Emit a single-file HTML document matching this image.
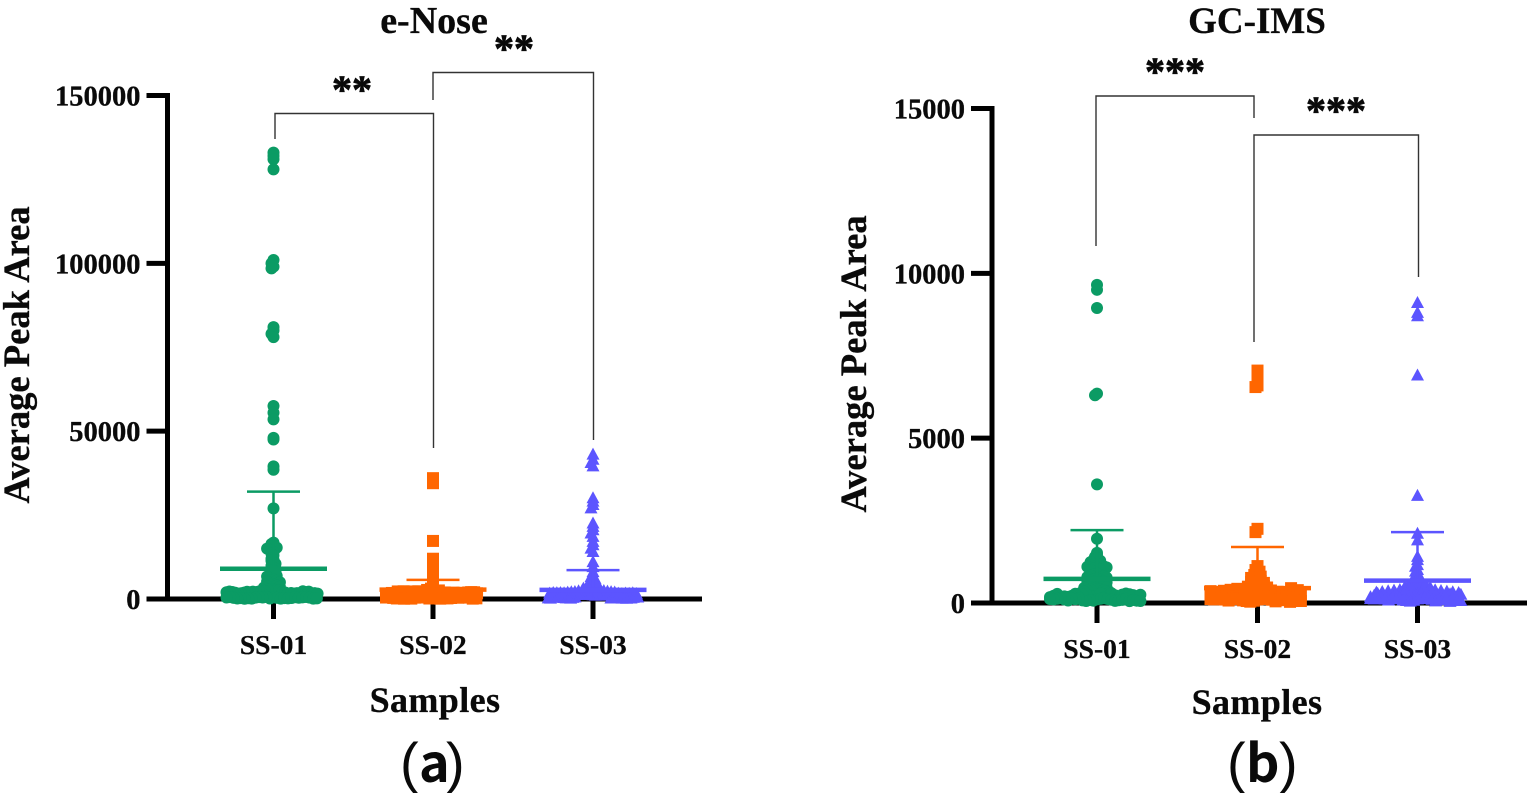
<!DOCTYPE html>
<html lang="en">
<head>
<meta charset="utf-8">
<title>e-Nose and GC-IMS average peak area</title>
<style>
html,body{margin:0;padding:0;background:#fff;}
body{width:1535px;height:793px;overflow:hidden;}
svg{display:block;}
text{font-family:"Liberation Serif","Noto Serif CJK SC",serif;font-weight:700;fill:#0a0a0a;stroke:#0a0a0a;stroke-width:0.3px;}
.star{stroke-width:0.8px;}
.nostroke{stroke:none;}
</style>
</head>
<body>
<svg id="figure" xmlns="http://www.w3.org/2000/svg" width="1535" height="793" viewBox="0 0 1535 793">
  <rect x="0" y="0" width="1535" height="793" fill="#ffffff"/>
  <g id="panel-a">
    <text x="434" y="33" font-size="38" text-anchor="middle">e-Nose</text>
    <text transform="translate(29,355) rotate(-90)" font-size="36.6" text-anchor="middle">Average Peak Area</text>
    <text x="435" y="712" font-size="36" text-anchor="middle" letter-spacing="0.4">Samples</text>
    <text class="nostroke" y="782" font-size="56" style="font-family:'Liberation Sans','Noto Sans CJK SC',sans-serif"><tspan x="400" style="font-weight:400">(</tspan><tspan x="419" font-size="52" style="font-family:'Noto Sans CJK SC','Liberation Sans',sans-serif">a</tspan><tspan x="446" style="font-weight:400">)</tspan></text>
    <path d="M275 139V113.5H433.5V448" fill="none" stroke="#333" stroke-width="1.4"/>
    <path d="M433 100V72.5H593.5V440" fill="none" stroke="#333" stroke-width="1.4"/>
    <text class="star" x="352" y="103" font-size="40" text-anchor="middle">**</text>
    <text class="star" x="514" y="62" font-size="40" text-anchor="middle">**</text>
  </g>
  <g id="panel-b">
    <text x="1257" y="33" font-size="37" text-anchor="middle">GC-IMS</text>
    <text transform="translate(866,364) rotate(-90)" font-size="36.6" text-anchor="middle">Average Peak Area</text>
    <text x="1257" y="714" font-size="36" text-anchor="middle" letter-spacing="0.4">Samples</text>
    <text class="nostroke" y="782" font-size="56" style="font-family:'Liberation Sans','Noto Sans CJK SC',sans-serif"><tspan x="1227" style="font-weight:400">(</tspan><tspan x="1246" font-size="52" style="font-family:'Noto Sans CJK SC','Liberation Sans',sans-serif">b</tspan><tspan x="1279" style="font-weight:400">)</tspan></text>
    <path d="M1096 246V96H1254V118" fill="none" stroke="#333" stroke-width="1.4"/>
    <path d="M1254 342V135H1418.5V277" fill="none" stroke="#333" stroke-width="1.4"/>
    <text class="star" x="1175" y="85" font-size="40" text-anchor="middle">***</text>
    <text class="star" x="1336" y="124" font-size="40" text-anchor="middle">***</text>
  </g>
</svg>
<script>
const categories = ["SS-01", "SS-02", "SS-03"];
const seriesColors = ["#0b9b64", "#ff6600", "#5c55ff"];

const enoseTicks = [0, 50000, 100000, 150000];
const enoseMeans = [9000, 2800, 2700];
const enoseUpperSD = [32000, 5700, 8600];
const enoseSS01 = [133000,132000,131000,128000,101000,100000,99000,98500,81000,80000,79000,78000,57500,55500,53500,48000,47500,39500,38500,27000,
  16800,16400,16000,15600,15300,15000,14000,13500,13000,12000,11700,11400,10500,10200,9900,9000,8700,8400,8100,7300,7100,6900,6700,5800,5600,5400,5200,5000,4400,4200,4000,3800,3600,3400,
  2900,2700,2500,2800,2600,2400,
  2100,1700,1950,2250,1600,2050,1800,2200,1650,2000,1750,2150,1600,1900,2300,1700,2050,1600,2200,1850,1650,2100,1750,2250,1600,2000,
  500,150,350,600,100,450,250,550,180,400,300,120,520,220,380,90,480,260,580,160,420,320,110,540,200,440];
const enoseSS02 = [36000,34500,17300,12000,10500,9000,7500,6000,4500,3400,3100,
  2800,2600,2500,2700,2550,
  2100,1700,2200,1950,2300,1800,2050,1650,2250,1900,2150,1750,2000,1600,2300,1850,2100,1700,2250,1950,1650,2050,1800,2000,1600,1700,
  500,150,350,600,100,450,250,550,180,400,300,120,520,220,380,90,480,260,580,160,420,320,110,540,200,440];
const enoseSS03 = [43000,41500,40500,39500,30000,29000,28000,27000,22500,21500,20500,19500,18500,17000,16000,15000,14000,11000,9500,8000,7000,6500,6000,5500,5000,4700,4400,4100,3800,3500,3300,3100,
  2900,2800,2700,2600,2500,2450,2400,2300,2200,2100,2050,2000,1950,1900,
  1600,1100,1400,1700,1000,1500,1200,1800,1050,1350,1650,1150,1750,1250,1550,1000,1450,1800,1100,1300,1700,1050,1600,1200,1500,1150,
  500,150,350,600,100,450,250,550,180,400,300,120,520,220,380,90,480,260,580,160,420,320,110,540,200,440];

const gcimsTicks = [0, 5000, 10000, 15000];
const gcimsMeans = [730, 450, 680];
const gcimsUpperSD = [2210, 1700, 2150];
const gcimsSS01 = [9650,9500,8950,6350,6300,3600,1950,1520,1460,1400,1360,1320,1280,1240,1200,1180,1160,1140,1120,1100,1080,1060,1040,1020,1000,
  890,870,850,830,810,790,770,
  740,720,700,680,660,640,620,
  590,570,550,530,510,490,470,460,
  445,430,415,400,385,370,355,340,325,310,
  260,205,285,225,165,270,190,245,295,175,235,280,160,215,255,185,290,200,265,155,240,275,170,220,250,180,
  110,70,130,90,145,60,120,80,100,140,65,115,85,135,95,75,125,105,55,145,90,130,70,110,60,120];
const gcimsSS02 = [7050,6950,6800,6600,6550,2250,2150,1120,1060,1000,950,900,850,800,
  760,730,700,670,640,610,
  595,575,555,535,515,495,470,
  440,350,410,320,380,430,340,400,310,370,450,330,390,360,
  260,205,285,225,165,270,190,245,295,175,235,280,160,215,255,185,290,200,265,155,240,275,170,220,250,180,
  110,70,130,40,145,60,120,80,100,140,50,115,85,135,95,75,125,105,35,145,90,130,70,110,60,120];
const gcimsSS03 = [9100,8800,8700,6900,3250,2100,1900,1400,1300,1150,1100,1000,950,900,850,800,750,
  640,620,600,580,560,540,520,500,480,470,460,
  445,435,425,415,405,395,385,375,365,355,345,335,325,315,305,
  260,205,285,225,165,270,190,245,295,175,235,280,160,215,255,185,290,200,265,155,240,275,170,220,250,180,
  110,70,130,40,145,60,120,80,100,140,50,115,85,135,95,75,125,105,35,145,90,130,70,110,60,120];

const enoseSeries = [enoseSS01, enoseSS02, enoseSS03];
const gcimsSeries = [gcimsSS01, gcimsSS02, gcimsSS03];

const SVG_NS = "http://www.w3.org/2000/svg";

function makeShape(tag, attrs) {
  const el = document.createElementNS(SVG_NS, tag);
  for (const k in attrs) el.setAttribute(k, attrs[k]);
  return el;
}

function drawPanel(parent, prefix, layout, ticks, series, means, upper) {
  const yScale = v => layout.y0 - (v / ticks[ticks.length - 1]) * (layout.y0 - layout.yTop);
  const xScale = i => layout.xCats[i];

  const axes = makeShape("path", {
    d: "M" + (layout.xAxis - layout.tickLen) + " " + layout.yTop + "H" + layout.xAxis + "V" + layout.y0 + "H" + layout.xEnd,
    fill: "none", stroke: "#000", "stroke-width": 5, "stroke-linejoin": "miter"
  });
  
  
  parent.appendChild(axes);

  ticks.forEach(t => {
    const y = yScale(t);
    const tick = makeShape("line", { x1: layout.xAxis - layout.tickLen, x2: layout.xAxis, y1: y, y2: y, stroke: "#000", "stroke-width": 5 });
    
    
    parent.appendChild(tick);
    const label = makeShape("text", { x: layout.xAxis - layout.tickLen - 6, y: y + 10, "font-size": 28.5, "text-anchor": "end" });
    label.textContent = String(t);
    
    
    parent.appendChild(label);
  });

  categories.forEach((c, i) => {
    const x = xScale(i);
    const tick = makeShape("line", { x1: x, x2: x, y1: layout.y0, y2: layout.y0 + 20, stroke: "#000", "stroke-width": 5 });
    
    
    parent.appendChild(tick);
    const label = makeShape("text", { x: x, y: layout.y0 + 55, "font-size": 27.5, "text-anchor": "middle" });
    label.textContent = c;
    
    
    parent.appendChild(label);

    const group = makeShape("g", { fill: seriesColors[i] });
    
    
    parent.appendChild(group);

    const bins = new Map();
    series[i].forEach(v => {
      const key = Math.floor((layout.y0 - yScale(v)) / 5);
      if (!bins.has(key)) bins.set(key, []);
      bins.get(key).push(v);
    });

    bins.forEach(vals => {
      const n = vals.length;
      let step = 2;
      if (n > 3) step = 3.2;
      if (n > 12) step = 47 / Math.ceil(n / 2);
      vals.forEach((v, k) => {
        const side = k % 2 === 0 ? 1 : -1;
        const px = x + side * Math.ceil(k / 2) * step;
        const py = yScale(v);
        let mark;
        if (i === 0) {
          mark = makeShape("circle", { cx: px, cy: py, r: 6 });
        } else if (i === 1) {
          mark = makeShape("rect", { x: px - 6, y: py - 6, width: 12, height: 12 });
        } else {
          mark = makeShape("path", { d: "M" + px + " " + (py - 7) + "l6.5 12h-13z" });
        }
        
        
        group.appendChild(mark);
      });
    });

    const stem = makeShape("line", { x1: x, x2: x, y1: yScale(means[i]), y2: yScale(upper[i]), stroke: seriesColors[i], "stroke-width": 2.5 });
    
    
    parent.appendChild(stem);

    const cap = makeShape("line", { x1: x - 26.5, x2: x + 26.5, y1: yScale(upper[i]), y2: yScale(upper[i]), stroke: seriesColors[i], "stroke-width": 2.5 });
    
    
    parent.appendChild(cap);

    const mean = makeShape("line", { x1: x - 53.5, x2: x + 53.5, y1: yScale(means[i]), y2: yScale(means[i]), stroke: seriesColors[i], "stroke-width": 4.5 });
    
    
    parent.appendChild(mean);
  });
}

drawPanel(document.getElementById("panel-a"), "enose",
  { y0: 599, yTop: 95.5, xAxis: 167.5, xEnd: 702, tickLen: 21, xCats: [273.5, 433, 593] },
  enoseTicks, enoseSeries, enoseMeans, enoseUpperSD);
drawPanel(document.getElementById("panel-b"), "gcims",
  { y0: 603, yTop: 108.5, xAxis: 992, xEnd: 1527, tickLen: 21, xCats: [1097, 1257.5, 1417.5] },
  gcimsTicks, gcimsSeries, gcimsMeans, gcimsUpperSD);
</script>
</body>
</html>
